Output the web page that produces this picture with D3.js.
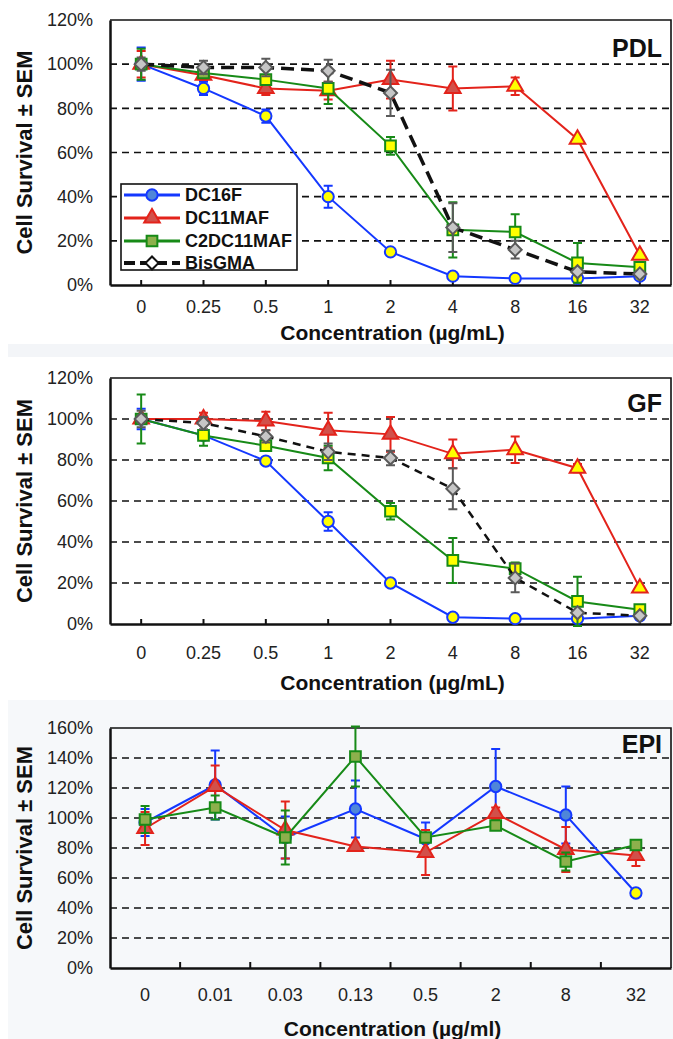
<!DOCTYPE html>
<html>
<head>
<meta charset="utf-8">
<style>
  body { margin: 0; background: #fff; }
  svg { display: block; font-family: "Liberation Sans", Arial, sans-serif; }
</style>
</head>
<body>
<script src="https://d3js.org/d3.v7.min.js"></script>
<script>
// ---- data ----
const pdlConc = ["0", "0.25", "0.5", "1", "2", "4", "8", "16", "32"];
const gfConc = ["0", "0.25", "0.5", "1", "2", "4", "8", "16", "32"];
const epiConc = ["0", "0.01", "0.03", "0.13", "0.5", "2", "8", "32"];
const yTicksPct = [0, 20, 40, 60, 80, 100, 120, 140, 160];

// PDL
const pdlDC16F = [100, 89, 76.5, 40, 15, 4, 3, 3, 4];
const pdlDC16FErr = [7.5, 3, 3, 5, 1, 0.5, 0.5, 0.5, 0.5];
const pdlDC16FSig = [0, 1, 1, 1, 1, 1, 1, 1, 1];
const pdlDC11MAF = [100, 95, 89, 88, 93, 89, 90, 66, 13.5];
const pdlDC11MAFErr = [6, 2, 3, 4, 8.5, 10, 4, 1, 1];
const pdlDC11MAFSig = [0, 0, 0, 0, 0, 0, 1, 1, 1];
const pdlC2DC11MAF = [100, 96, 93, 89, 63, 25, 24, 10, 8];
const pdlC2DC11MAFErr = [7, 2, 2, 7, 4, 12.5, 8, 9, 1];
const pdlC2DC11MAFSig = [0, 0, 1, 1, 1, 1, 1, 1, 1];
const pdlBisGMA = [100, 98.5, 98.5, 97, 87, 26, 16, 6, 5];
const pdlBisGMAErr = [3, 3, 4, 5, 10.5, 11, 4, 1, 1];

// GF
const gfDC16F = [100, 92, 79.5, 50, 20, 3.3, 2.6, 2.6, 4];
const gfDC16FErr = [5, 1, 1, 4.5, 1, 0.5, 0.5, 0.5, 0.5];
const gfDC16FSig = [0, 1, 1, 1, 1, 1, 1, 1, 1];
const gfDC11MAF = [100, 100, 99, 94.5, 92.5, 83, 85, 76, 17.5];
const gfDC11MAFErr = [2, 3, 4.5, 8.5, 8.5, 7, 6.5, 2, 1];
const gfDC11MAFSig = [0, 0, 0, 0, 0, 1, 1, 1, 1];
const gfC2DC11MAF = [100, 92, 87, 81, 55, 31, 27, 11, 7];
const gfC2DC11MAFErr = [12, 5, 2, 6, 4, 11, 3, 12, 1];
const gfC2DC11MAFSig = [0, 1, 1, 1, 1, 1, 1, 1, 1];
const gfBisGMA = [100, 98, 91.5, 84, 81, 66, 22.5, 5.5, 4];
const gfBisGMAErr = [4, 3, 3, 4, 3.5, 10, 7, 1, 1];

// EPI
const epiDC16F = [97, 122, 87, 106, 86, 121, 102, 50];
const epiDC16FErr = [9, 23, 14, 19, 11, 25, 19, 1];
const epiDC16FSig = [0, 0, 0, 0, 0, 0, 0, 1];
const epiDC11MAF = [93, 121, 92, 81, 77, 103, 79, 75];
const epiDC11MAFErr = [11, 14, 19, 1, 15, 4, 15, 7];
const epiDC11MAFSig = [0, 0, 0, 0, 0, 0, 0, 0];
const epiC2DC11MAF = [99, 107, 87, 141, 87, 95, 71, 82];
const epiC2DC11MAFErr = [9, 8, 18, 20, 2, 2, 6, 2];
const epiC2DC11MAFSig = [0, 0, 0, 0, 0, 0, 0, 0];

const seriesNames = ["DC16F", "DC11MAF", "C2DC11MAF", "BisGMA"];

// ---- styles ----
const W = 673, H = 1039;
const L = 110, R = 671;
const yellow = "#ffff00";
const styles = {
  DC16F: { color: "#1438ff", fill: "#4f86d9", symbol: d3.symbolCircle, size: 100, rot: 0 },
  DC11MAF: { color: "#e3231b", fill: "#d2504a", symbol: d3.symbolTriangle, size: 105, rot: 0 },
  C2DC11MAF: { color: "#178a17", fill: "#8db04c", symbol: d3.symbolSquare, size: 115, rot: 0 },
  BisGMA: { color: "#111", fill: "#c6c6c6", stroke: "#5a5a5a", symbol: d3.symbolSquare, size: 85, rot: 45 }
};

const panels = [
  { label: "PDL", conc: pdlConc, top: 20, bottom: 285, yMax: 120, tickPad: 15, titleY: 340, labelY: 57,
    ticks: "center", title: "Concentration (µg/mL)", dashW: 3.5, dash: "13,7", legend: true,
    series: [
      { name: "DC16F", v: pdlDC16F, e: pdlDC16FErr, s: pdlDC16FSig },
      { name: "DC11MAF", v: pdlDC11MAF, e: pdlDC11MAFErr, s: pdlDC11MAFSig },
      { name: "C2DC11MAF", v: pdlC2DC11MAF, e: pdlC2DC11MAFErr, s: pdlC2DC11MAFSig },
      { name: "BisGMA", v: pdlBisGMA, e: pdlBisGMAErr }
    ] },
  { label: "GF", conc: gfConc, top: 378, bottom: 624, yMax: 120, tickPad: 22, titleY: 690, labelY: 412,
    ticks: "center", title: "Concentration (µg/mL)", dashW: 2.5, dash: "8,6",
    series: [
      { name: "DC16F", v: gfDC16F, e: gfDC16FErr, s: gfDC16FSig },
      { name: "DC11MAF", v: gfDC11MAF, e: gfDC11MAFErr, s: gfDC11MAFSig },
      { name: "C2DC11MAF", v: gfC2DC11MAF, e: gfC2DC11MAFErr, s: gfC2DC11MAFSig },
      { name: "BisGMA", v: gfBisGMA, e: gfBisGMAErr }
    ] },
  { label: "EPI", conc: epiConc, top: 728, bottom: 968, yMax: 160, tickPad: 20, titleY: 1036, labelY: 753,
    ticks: "between", title: "Concentration (µg/ml)",
    series: [
      { name: "DC16F", v: epiDC16F, e: epiDC16FErr, s: epiDC16FSig },
      { name: "DC11MAF", v: epiDC11MAF, e: epiDC11MAFErr, s: epiDC11MAFSig },
      { name: "C2DC11MAF", v: epiC2DC11MAF, e: epiC2DC11MAFErr, s: epiC2DC11MAFSig }
    ] }
];

const svg = d3.select("body").append("svg").attr("width", W).attr("height", H);

// light backgrounds: separator band and the EPI panel
svg.append("rect").attr("x", 8).attr("y", 344).attr("width", W - 8).attr("height", 13).attr("fill", "#f3f5f8");
svg.append("rect").attr("x", 8).attr("y", 700).attr("width", W - 8).attr("height", H - 700).attr("fill", "#f6f8fa");

function marker(sel, st, fill, stroke) {
  sel.append("path")
    .attr("d", d3.symbol().type(st.symbol).size(st.size))
    .attr("transform", d => `translate(${d[0]},${d[1]}) rotate(${st.rot})`)
    .attr("fill", fill)
    .attr("stroke", stroke)
    .attr("stroke-width", 2);
}

function drawPanel(p) {
  const g = svg.append("g");
  const x = d3.scaleBand().domain(p.conc).range([L, R]);
  const y = d3.scaleLinear().domain([0, p.yMax]).range([p.bottom, p.top]);
  const cx = c => x(c) + x.bandwidth() / 2;

  // dashed grid
  g.selectAll("line.grid").data(yTicksPct.filter(v => v > 0 && v < p.yMax)).join("line")
    .attr("x1", L).attr("x2", R).attr("y1", d => y(d)).attr("y2", d => y(d))
    .attr("stroke", "#111").attr("stroke-width", 1.6).attr("stroke-dasharray", "7,5");
  // top and right border
  g.append("path").attr("d", `M${L},${y(p.yMax)}H${R}V${y(0)}`)
    .attr("fill", "none").attr("stroke", "#111").attr("stroke-width", 1.6);

  // y axis
  const ya = g.append("g").attr("transform", `translate(${L},0)`)
    .call(d3.axisLeft(y).tickValues(yTicksPct.filter(v => v <= p.yMax)).tickFormat(d => d + "%").tickSize(0).tickPadding(17));
  ya.select(".domain").attr("stroke", "#111").attr("stroke-width", 2.5);
  ya.selectAll("text").attr("font-size", 18).attr("fill", "#222");

  // x axis
  const xa = g.append("g").attr("transform", `translate(0,${y(0)})`)
    .call(d3.axisBottom(x).tickSizeInner(p.ticks === "center" ? -5 : 0).tickSizeOuter(0).tickPadding(p.tickPad));
  xa.select(".domain").attr("stroke", "#111").attr("stroke-width", 2.5);
  xa.selectAll(".tick line").attr("stroke", "#111").attr("stroke-width", 2);
  xa.selectAll("text").attr("font-size", 18).attr("fill", "#222");
  if (p.ticks === "between") {
    xa.selectAll("line.sep").data(p.conc.slice(1)).join("line")
      .attr("x1", d => x(d)).attr("x2", d => x(d)).attr("y1", 0).attr("y2", -6)
      .attr("stroke", "#111").attr("stroke-width", 2);
  }

  // titles
  g.append("text").attr("x", (L + R) / 2 + 2).attr("y", p.titleY).attr("text-anchor", "middle")
    .attr("font-size", 21).attr("font-weight", "bold").attr("fill", "#111").text(p.title);
  g.append("text").attr("transform", `translate(32,${(p.top + p.bottom) / 2}) rotate(-90)`)
    .attr("text-anchor", "middle").attr("font-size", 22).attr("font-weight", "bold").attr("fill", "#111")
    .text("Cell Survival ± SEM");
  g.append("text").attr("x", 662).attr("y", p.labelY).attr("text-anchor", "end")
    .attr("font-size", 25).attr("font-weight", "bold").attr("fill", "#111").text(p.label);

  // series
  p.series.forEach(sr => {
    const st = styles[sr.name];
    const pts = sr.v.map((v, i) => [cx(p.conc[i]), y(v), v, sr.e[i], sr.s ? sr.s[i] : 0]);
    const sg = g.append("g");
    const ec = sr.name === "BisGMA" ? st.stroke : st.color;
    // error bars
    const eb = sg.selectAll("g.err").data(pts).join("g");
    eb.append("path")
      .attr("d", d => `M${d[0]},${y(d[2] + d[3])}V${y(d[2] - d[3])}M${d[0] - 4.5},${y(d[2] + d[3])}h9M${d[0] - 4.5},${y(d[2] - d[3])}h9`)
      .attr("fill", "none").attr("stroke", ec).attr("stroke-width", 2);
    // line
    const line = d3.line().x(d => d[0]).y(d => d[1]);
    sg.append("path").datum(pts).attr("d", line).attr("fill", "none")
      .attr("stroke", st.color)
      .attr("stroke-width", sr.name === "BisGMA" ? p.dashW : 2)
      .attr("stroke-dasharray", sr.name === "BisGMA" ? p.dash : null);
    // markers
    const mk = sg.selectAll("g.mk").data(pts).join("g");
    if (sr.name === "BisGMA") {
      marker(mk, st, st.fill, st.stroke);
    } else {
      marker(mk, st, d => d[4] ? yellow : st.fill, st.color);
    }
  });

  if (p.legend) drawLegend(g);
}

function drawLegend(g) {
  const lg = g.append("g").attr("transform", "translate(121,184)");
  lg.append("rect").attr("width", 176).attr("height", 86)
    .attr("fill", "#fff").attr("stroke", "#111").attr("stroke-width", 1.6);
  const rows = [11, 34, 57, 79];
  seriesNames.forEach((name, i) => {
    const st = styles[name];
    const r = lg.append("g").attr("transform", `translate(0,${rows[i]})`);
    const isB = name === "BisGMA";
    r.append("line").attr("x1", 3).attr("x2", 59).attr("y1", 0).attr("y2", 0)
      .attr("stroke", st.color).attr("stroke-width", isB ? 4 : 3)
      .attr("stroke-dasharray", isB ? "11,5" : null);
    marker(r.selectAll("g").data([[31, 0]]).join("g"), st, isB ? "#fff" : st.fill, st.color);
    r.append("text").attr("x", 64).attr("y", 0).attr("dy", "0.36em")
      .attr("font-size", 18).attr("font-weight", "bold").attr("fill", "#111").text(name);
  });
}

panels.forEach(drawPanel);
</script>
</body>
</html>
